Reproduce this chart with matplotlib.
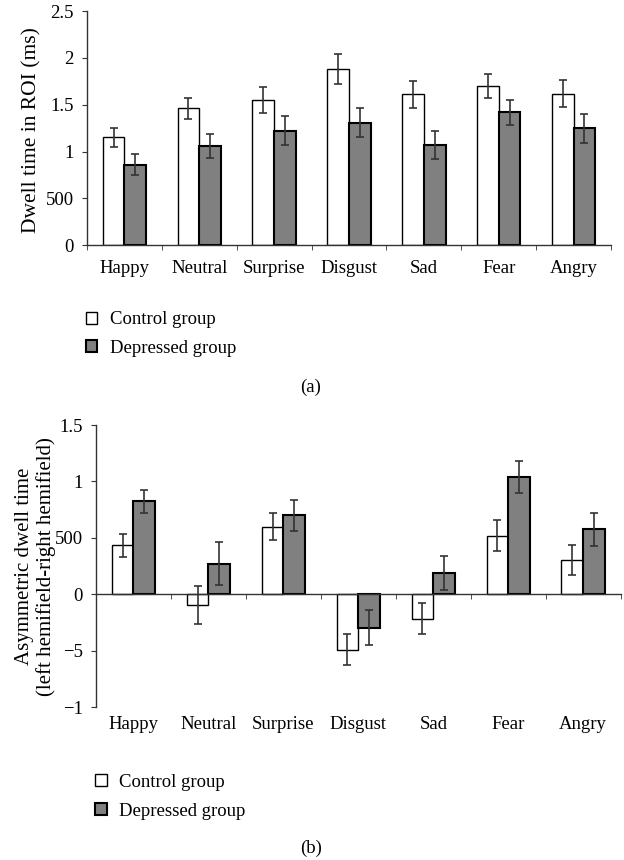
import numpy as np
import matplotlib
matplotlib.use("Agg")
import matplotlib.pyplot as plt

plt.rcParams['font.family'] = ['Liberation Serif', 'DejaVu Serif']
plt.rcParams['font.size'] = 13.5

# data
emotions = ["Happy", "Neutral", "Surprise", "Disgust", "Sad", "Fear", "Angry"]

# (a) dwell time in ROI
dwell_ctrl = [1.15, 1.46, 1.55, 1.88, 1.61, 1.70, 1.62]
dwell_ctrl_err = [0.10, 0.115, 0.14, 0.16, 0.14, 0.13, 0.145]
dwell_dep = [0.86, 1.06, 1.22, 1.31, 1.07, 1.42, 1.25]
dwell_dep_err = [0.11, 0.13, 0.155, 0.16, 0.15, 0.135, 0.155]
a_ticks = [0, 0.5, 1, 1.5, 2, 2.5]
a_ticklabels = ["0", "500", "1", "1.5", "2", "2.5"]

# (b) asymmetric dwell time
asym_ctrl = [0.435, -0.095, 0.60, -0.49, -0.215, 0.52, 0.305]
asym_ctrl_err = [0.10, 0.17, 0.12, 0.14, 0.135, 0.135, 0.135]
asym_dep = [0.825, 0.27, 0.70, -0.295, 0.19, 1.04, 0.575]
asym_dep_err = [0.10, 0.19, 0.14, 0.153, 0.15, 0.145, 0.15]
b_ticks = [-1, -0.5, 0, 0.5, 1, 1.5]
b_ticklabels = ["\u22121", "\u22125", "0", "500", "1", "1.5"]

labels = ["Control group", "Depressed group"]

x = np.arange(len(emotions))
w = 0.29
axcol = "#333333"
errcol = "#333333"


def draw_panel(ax, ctrl, ctrl_err, dep, dep_err):
    b1 = ax.bar(x - w/2, ctrl, w, color="white", edgecolor="black", linewidth=1.0,
                yerr=ctrl_err, capsize=3,
                error_kw=dict(ecolor=errcol, elinewidth=1.2, capthick=1.2), zorder=2)
    b2 = ax.bar(x + w/2, dep, w, color="#808080", edgecolor="black", linewidth=1.5,
                yerr=dep_err, capsize=3,
                error_kw=dict(ecolor=errcol, elinewidth=1.2, capthick=1.2), zorder=2)
    ax.set_xlim(-0.5, len(emotions) - 0.5)
    ax.spines['top'].set_visible(False)
    ax.spines['right'].set_visible(False)
    for s in ['left', 'bottom']:
        ax.spines[s].set_color(axcol)
        ax.spines[s].set_linewidth(1.0)
    ax.set_xticks(np.arange(len(emotions) + 1) - 0.5, minor=True)
    ax.tick_params(axis='x', which='minor', length=3.5, direction='out', color=axcol)
    ax.tick_params(axis='y', length=3.5, direction='out', color=axcol, pad=6)
    return b1, b2


fig = plt.figure(figsize=(6.24, 8.6), dpi=100)

# panel (a)
ax1 = fig.add_axes([0.1394, 0.715, 0.8398, 0.272])
b1, b2 = draw_panel(ax1, dwell_ctrl, dwell_ctrl_err, dwell_dep, dwell_dep_err)
ax1.set_ylim(0, 2.5)
ax1.set_yticks(a_ticks)
ax1.set_yticklabels(a_ticklabels)
ax1.set_xticks(x)
ax1.set_xticklabels(emotions)
ax1.tick_params(axis='x', which='major', length=0, pad=11)
ax1.set_ylabel("Dwell time in ROI (ms)", fontsize=15.5)
ax1.yaxis.set_label_coords(-0.087, 0.49)

fig.legend([b1, b2], labels, loc='upper left', bbox_to_anchor=(0.138, 0.638),
           frameon=False, borderpad=0, borderaxespad=0, handlelength=0.6,
           handleheight=0.6, handletextpad=0.65, labelspacing=0.62)
fig.text(311/624, 1 - 387/860, "(a)", ha='center', va='center', fontsize=13.5)

# panel (b)
ax2 = fig.add_axes([0.1538, 0.1776, 0.8409, 0.3282])
c1, c2 = draw_panel(ax2, asym_ctrl, asym_ctrl_err, asym_dep, asym_dep_err)
ax2.set_ylim(-1, 1.5)
ax2.set_yticks(b_ticks)
ax2.set_yticklabels(b_ticklabels)
ax2.spines['bottom'].set_position(('data', 0))
ax2.set_xticks([])
for i, name in enumerate(emotions):
    ax2.text(i, -0.03, name, transform=ax2.get_xaxis_transform(),
             ha='center', va='top', fontsize=13.5)
ax2.set_ylabel("Asymmetric dwell time\n(left hemifield-right hemifield)",
               fontsize=15, linespacing=1.15)
ax2.yaxis.set_label_coords(-0.076, 0.5)

fig.legend([c1, c2], labels, loc='upper left', bbox_to_anchor=(0.153, 0.1),
           frameon=False, borderpad=0, borderaxespad=0, handlelength=0.6,
           handleheight=0.6, handletextpad=0.65, labelspacing=0.62)
fig.text(311/624, 1 - 848/860, "(b)", ha='center', va='center', fontsize=13.5)

fig.savefig("out.png", dpi=100)
